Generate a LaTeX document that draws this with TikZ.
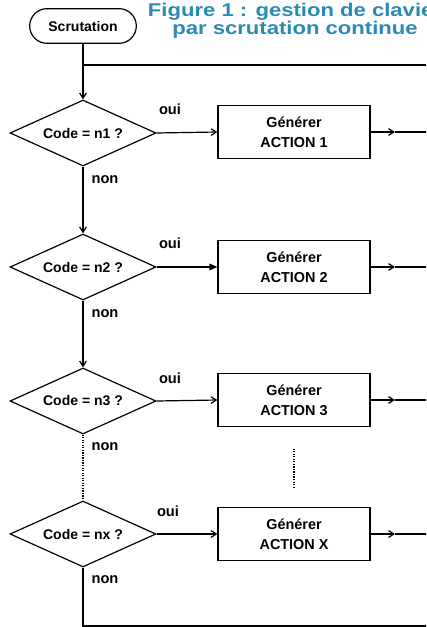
\documentclass[tikz,border=0pt]{standalone}
\usepackage{fontspec}
\setmainfont{Liberation Sans}
\newfontfamily\titlefont{Liberation Sans}[FakeStretch=1.2]
\usetikzlibrary{shapes.geometric,arrows.meta}
\definecolor{titleblue}{HTML}{2B8AB5}
\begin{document}
\begin{tikzpicture}[x=0.75pt,y=-0.75pt,
  line width=0.9pt,
  every node/.style={font=\bfseries\fontsize{10.5}{13}\selectfont},
  decision/.style={draw, diamond, aspect=2.2, inner sep=0pt, minimum width=109.5pt, minimum height=49.5pt},
  actionbox/.style={draw, rectangle, minimum width=114pt, minimum height=40pt, align=center, font=\bfseries\fontsize{10.8}{15}\selectfont},
  startbox/.style={draw, rounded corners=13pt, minimum width=80pt, minimum height=26pt},
  lbl/.style={font=\bfseries\fontsize{11}{13}\selectfont},
  titlestyle/.style={align=center, text=titleblue, font=\titlefont\bfseries\fontsize{13.8}{13.5}\selectfont},
  arr/.style={-{Straight Barb[length=4pt,width=5pt]}},
  farr/.style={-{Triangle[length=6pt,width=5pt]}},
  dots/.style={densely dotted}
]
\useasboundingbox (0,0) rectangle (426,627);
\clip (0,0) rectangle (426,627);

% start and title
\node[startbox] (scr) at (83,26) {Scrutation};
\node[titlestyle] (title) at (295,21) {Figure 1 : gestion de clavier\\par scrutation continue};

% decisions
\node[decision] (d1) at (83,133) {Code = n1 ?};
\node[decision] (d2) at (83,267) {Code = n2 ?};
\node[decision] (d3) at (83,401) {Code = n3 ?};
\node[decision] (dx) at (83,534) {Code = nx ?};

% actions
\node[actionbox] (b1) at (294,132) {Générer\\ACTION 1};
\node[actionbox] (b2) at (294,267) {Générer\\ACTION 2};
\node[actionbox] (b3) at (294,400) {Générer\\ACTION 3};
\node[actionbox] (bx) at (294,534) {Générer\\ACTION X};

% labels
\node[lbl] (o1) at (170,109) {oui};
\node[lbl] (o2) at (170,243) {oui};
\node[lbl] (o3) at (170,378) {oui};
\node[lbl] (ox) at (168,511) {oui};
\node[lbl] (n1) at (105,180) {non};
\node[lbl] (n2) at (105,314) {non};
\node[lbl] (n3) at (105,447) {non};
\node[lbl] (nx) at (105,580) {non};

% coordinates
\coordinate (top) at (83,65);
\coordinate (topR) at (432,65);
\coordinate (bot) at (83,626);
\coordinate (botR) at (432,626);
\coordinate (a1) at (395,132);
\coordinate (e1) at (432,132);
\coordinate (a2) at (395,267);
\coordinate (e2) at (432,267);
\coordinate (a3) at (395,400);
\coordinate (e3) at (432,400);
\coordinate (ax) at (395,534);
\coordinate (ex) at (432,534);

% main line
\draw (scr) -- (top);
\draw (top) -- (topR);
\draw[arr] (top) -- (d1.north);
\draw[arr] (d1.south) -- (d2.north);
\draw[arr] (d2.south) -- (d3.north);
\draw[dots] (d3.south) -- (dx.north);
\draw (dx.south) -- (bot) -- (botR);

% yes branches
\draw[arr] (d1.east) -- (b1.west);
\draw[farr] (d2.east) -- (b2.west);
\draw[arr] (d3.east) -- (b3.west);
\draw[arr] (dx.east) -- (bx.west);

% outputs
\draw[arr] (b1.east) -- (a1); \draw (a1) -- (e1);
\draw[arr] (b2.east) -- (a2); \draw (a2) -- (e2);
\draw[arr] (b3.east) -- (a3); \draw (a3) -- (e3);
\draw[arr] (bx.east) -- (ax); \draw (ax) -- (ex);

% ellipsis between actions
\draw[dots, shorten <=16pt, shorten >=15pt] (b3.south) -- (bx.north);
\end{tikzpicture}
\end{document}
